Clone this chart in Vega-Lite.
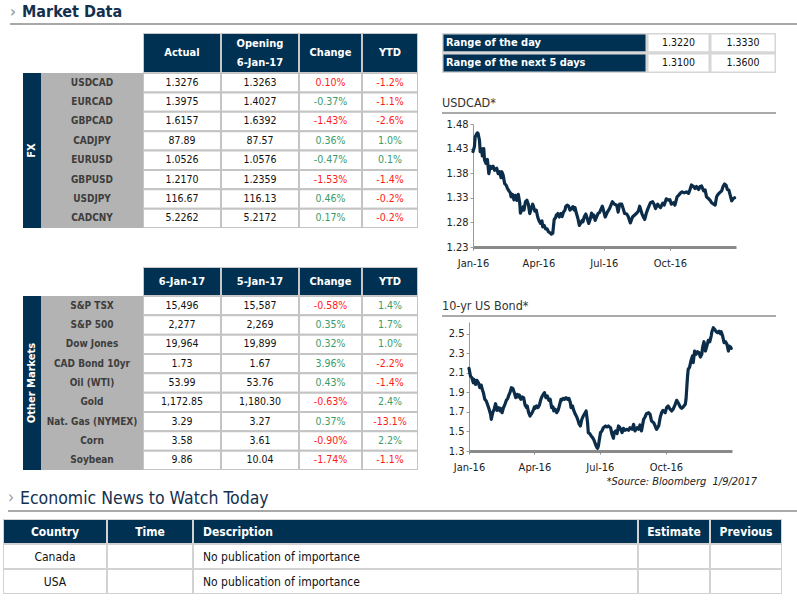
{
"$schema": "https://vega.github.io/schema/vega-lite/v6.json",
"background": "white",
"padding": {"left": 0, "top": 4, "right": 0, "bottom": 0},
"config": {"view": {"stroke": null}, "font": "DejaVu Sans Condensed", "concat": {"spacing": 0}},
"spacing": 0,
"datasets": {
"fx": [
{"pair":"USDCAD","actual":"1.3276","opening":"1.3263","change":"0.10%","changeSignal":"negative","ytd":"-1.2%","ytdSignal":"negative"},
{"pair":"EURCAD","actual":"1.3975","opening":"1.4027","change":"-0.37%","changeSignal":"positive","ytd":"-1.1%","ytdSignal":"negative"},
{"pair":"GBPCAD","actual":"1.6157","opening":"1.6392","change":"-1.43%","changeSignal":"negative","ytd":"-2.6%","ytdSignal":"negative"},
{"pair":"CADJPY","actual":"87.89","opening":"87.57","change":"0.36%","changeSignal":"positive","ytd":"1.0%","ytdSignal":"positive"},
{"pair":"EURUSD","actual":"1.0526","opening":"1.0576","change":"-0.47%","changeSignal":"positive","ytd":"0.1%","ytdSignal":"positive"},
{"pair":"GBPUSD","actual":"1.2170","opening":"1.2359","change":"-1.53%","changeSignal":"negative","ytd":"-1.4%","ytdSignal":"negative"},
{"pair":"USDJPY","actual":"116.67","opening":"116.13","change":"0.46%","changeSignal":"positive","ytd":"-0.2%","ytdSignal":"negative"},
{"pair":"CADCNY","actual":"5.2262","opening":"5.2172","change":"0.17%","changeSignal":"positive","ytd":"-0.2%","ytdSignal":"negative"}
],
"markets": [
{"asset":"S&P TSX","today":"15,496","prev":"15,587","change":"-0.58%","changeSignal":"negative","ytd":"1.4%","ytdSignal":"positive"},
{"asset":"S&P 500","today":"2,277","prev":"2,269","change":"0.35%","changeSignal":"positive","ytd":"1.7%","ytdSignal":"positive"},
{"asset":"Dow Jones","today":"19,964","prev":"19,899","change":"0.32%","changeSignal":"positive","ytd":"1.0%","ytdSignal":"positive"},
{"asset":"CAD Bond 10yr","today":"1.73","prev":"1.67","change":"3.96%","changeSignal":"positive","ytd":"-2.2%","ytdSignal":"negative"},
{"asset":"Oil (WTI)","today":"53.99","prev":"53.76","change":"0.43%","changeSignal":"positive","ytd":"-1.4%","ytdSignal":"negative"},
{"asset":"Gold","today":"1,172.85","prev":"1,180.30","change":"-0.63%","changeSignal":"negative","ytd":"2.4%","ytdSignal":"positive"},
{"asset":"Nat. Gas (NYMEX)","today":"3.29","prev":"3.27","change":"0.37%","changeSignal":"positive","ytd":"-13.1%","ytdSignal":"negative"},
{"asset":"Corn","today":"3.58","prev":"3.61","change":"-0.90%","changeSignal":"negative","ytd":"2.2%","ytdSignal":"positive"},
{"asset":"Soybean","today":"9.86","prev":"10.04","change":"-1.74%","changeSignal":"negative","ytd":"-1.1%","ytdSignal":"negative"}
],
"range": [
{"label":"Range of the day","low":"1.3220","high":"1.3330"},
{"label":"Range of the next 5 days","low":"1.3100","high":"1.3600"}
],
"news": [
{"row":"header","country":"Country","time":"Time","description":"Description","estimate":"Estimate","previous":"Previous"},
{"row":"Canada","country":"Canada","time":"","description":"No publication of importance","estimate":"","previous":""},
{"row":"USA","country":"USA","time":"","description":"No publication of importance","estimate":"","previous":""}
],
"usdcad": [
{"date":"2016-01-01","rate":1.424},{"date":"2016-01-03","rate":1.434},{"date":"2016-01-04","rate":1.454},{"date":"2016-01-07","rate":1.462},{"date":"2016-01-08","rate":1.461},{"date":"2016-01-10","rate":1.447},{"date":"2016-01-11","rate":1.424},{"date":"2016-01-13","rate":1.430},{"date":"2016-01-14","rate":1.415},{"date":"2016-01-16","rate":1.430},{"date":"2016-01-17","rate":1.407},{"date":"2016-01-19","rate":1.400},{"date":"2016-01-21","rate":1.408},{"date":"2016-01-23","rate":1.379},{"date":"2016-01-25","rate":1.394},{"date":"2016-01-27","rate":1.390},{"date":"2016-01-29","rate":1.394},{"date":"2016-01-31","rate":1.386},{"date":"2016-02-03","rate":1.390},{"date":"2016-02-05","rate":1.379},{"date":"2016-02-07","rate":1.383},{"date":"2016-02-09","rate":1.371},{"date":"2016-02-10","rate":1.383},{"date":"2016-02-12","rate":1.376},{"date":"2016-02-14","rate":1.359},{"date":"2016-02-16","rate":1.356},{"date":"2016-02-18","rate":1.349},{"date":"2016-02-20","rate":1.344},{"date":"2016-02-22","rate":1.340},{"date":"2016-02-23","rate":1.332},{"date":"2016-02-25","rate":1.337},{"date":"2016-02-27","rate":1.326},{"date":"2016-02-29","rate":1.335},{"date":"2016-03-02","rate":1.325},{"date":"2016-03-04","rate":1.337},{"date":"2016-03-06","rate":1.320},{"date":"2016-03-07","rate":1.299},{"date":"2016-03-09","rate":1.306},{"date":"2016-03-11","rate":1.312},{"date":"2016-03-12","rate":1.305},{"date":"2016-03-14","rate":1.322},{"date":"2016-03-16","rate":1.325},{"date":"2016-03-18","rate":1.317},{"date":"2016-03-20","rate":1.298},{"date":"2016-03-22","rate":1.308},{"date":"2016-03-24","rate":1.317},{"date":"2016-03-25","rate":1.313},{"date":"2016-03-27","rate":1.303},{"date":"2016-03-29","rate":1.305},{"date":"2016-03-31","rate":1.291},{"date":"2016-04-02","rate":1.283},{"date":"2016-04-04","rate":1.278},{"date":"2016-04-06","rate":1.283},{"date":"2016-04-07","rate":1.271},{"date":"2016-04-09","rate":1.274},{"date":"2016-04-11","rate":1.267},{"date":"2016-04-13","rate":1.267},{"date":"2016-04-15","rate":1.261},{"date":"2016-04-17","rate":1.259},{"date":"2016-04-19","rate":1.256},{"date":"2016-04-21","rate":1.258},{"date":"2016-04-23","rate":1.286},{"date":"2016-04-25","rate":1.290},{"date":"2016-04-26","rate":1.295},{"date":"2016-04-28","rate":1.298},{"date":"2016-04-30","rate":1.291},{"date":"2016-05-02","rate":1.298},{"date":"2016-05-04","rate":1.292},{"date":"2016-05-06","rate":1.301},{"date":"2016-05-08","rate":1.305},{"date":"2016-05-09","rate":1.312},{"date":"2016-05-11","rate":1.315},{"date":"2016-05-13","rate":1.313},{"date":"2016-05-15","rate":1.305},{"date":"2016-05-17","rate":1.308},{"date":"2016-05-19","rate":1.312},{"date":"2016-05-21","rate":1.305},{"date":"2016-05-22","rate":1.310},{"date":"2016-05-24","rate":1.298},{"date":"2016-05-26","rate":1.288},{"date":"2016-05-28","rate":1.274},{"date":"2016-05-30","rate":1.279},{"date":"2016-06-01","rate":1.284},{"date":"2016-06-02","rate":1.281},{"date":"2016-06-04","rate":1.292},{"date":"2016-06-06","rate":1.297},{"date":"2016-06-08","rate":1.288},{"date":"2016-06-10","rate":1.278},{"date":"2016-06-12","rate":1.286},{"date":"2016-06-14","rate":1.299},{"date":"2016-06-15","rate":1.291},{"date":"2016-06-17","rate":1.295},{"date":"2016-06-19","rate":1.284},{"date":"2016-06-21","rate":1.291},{"date":"2016-06-23","rate":1.298},{"date":"2016-06-25","rate":1.300},{"date":"2016-06-29","rate":1.313},{"date":"2016-07-03","rate":1.291},{"date":"2016-07-06","rate":1.301},{"date":"2016-07-09","rate":1.308},{"date":"2016-07-13","rate":1.322},{"date":"2016-07-16","rate":1.317},{"date":"2016-07-19","rate":1.315},{"date":"2016-07-21","rate":1.301},{"date":"2016-07-23","rate":1.317},{"date":"2016-07-26","rate":1.317},{"date":"2016-07-28","rate":1.308},{"date":"2016-07-30","rate":1.298},{"date":"2016-08-02","rate":1.297},{"date":"2016-08-04","rate":1.292},{"date":"2016-08-07","rate":1.279},{"date":"2016-08-10","rate":1.291},{"date":"2016-08-13","rate":1.295},{"date":"2016-08-16","rate":1.299},{"date":"2016-08-18","rate":1.303},{"date":"2016-08-20","rate":1.313},{"date":"2016-08-23","rate":1.298},{"date":"2016-08-25","rate":1.291},{"date":"2016-08-27","rate":1.286},{"date":"2016-08-29","rate":1.298},{"date":"2016-09-01","rate":1.310},{"date":"2016-09-04","rate":1.320},{"date":"2016-09-07","rate":1.322},{"date":"2016-09-09","rate":1.317},{"date":"2016-09-11","rate":1.308},{"date":"2016-09-14","rate":1.317},{"date":"2016-09-16","rate":1.313},{"date":"2016-09-18","rate":1.310},{"date":"2016-09-21","rate":1.319},{"date":"2016-09-23","rate":1.315},{"date":"2016-09-26","rate":1.328},{"date":"2016-09-29","rate":1.325},{"date":"2016-10-01","rate":1.326},{"date":"2016-10-03","rate":1.317},{"date":"2016-10-06","rate":1.320},{"date":"2016-10-08","rate":1.315},{"date":"2016-10-11","rate":1.332},{"date":"2016-10-13","rate":1.335},{"date":"2016-10-16","rate":1.340},{"date":"2016-10-18","rate":1.342},{"date":"2016-10-21","rate":1.340},{"date":"2016-10-24","rate":1.342},{"date":"2016-10-27","rate":1.339},{"date":"2016-10-29","rate":1.347},{"date":"2016-10-31","rate":1.356},{"date":"2016-11-03","rate":1.353},{"date":"2016-11-05","rate":1.349},{"date":"2016-11-07","rate":1.353},{"date":"2016-11-10","rate":1.347},{"date":"2016-11-12","rate":1.353},{"date":"2016-11-14","rate":1.354},{"date":"2016-11-17","rate":1.344},{"date":"2016-11-19","rate":1.346},{"date":"2016-11-21","rate":1.332},{"date":"2016-11-24","rate":1.328},{"date":"2016-11-26","rate":1.325},{"date":"2016-11-28","rate":1.320},{"date":"2016-12-01","rate":1.317},{"date":"2016-12-03","rate":1.315},{"date":"2016-12-05","rate":1.332},{"date":"2016-12-07","rate":1.337},{"date":"2016-12-09","rate":1.340},{"date":"2016-12-12","rate":1.344},{"date":"2016-12-14","rate":1.353},{"date":"2016-12-16","rate":1.358},{"date":"2016-12-18","rate":1.356},{"date":"2016-12-20","rate":1.347},{"date":"2016-12-22","rate":1.346},{"date":"2016-12-24","rate":1.335},{"date":"2016-12-26","rate":1.324},{"date":"2016-12-28","rate":1.328},{"date":"2016-12-30","rate":1.330}
],
"ust10": [
{"date":"2016-01-01","yield":2.146},{"date":"2016-01-03","yield":2.067},{"date":"2016-01-05","yield":2.050},{"date":"2016-01-07","yield":1.999},{"date":"2016-01-08","yield":2.033},{"date":"2016-01-10","yield":1.982},{"date":"2016-01-12","yield":2.023},{"date":"2016-01-14","yield":1.999},{"date":"2016-01-16","yield":1.948},{"date":"2016-01-18","yield":1.975},{"date":"2016-01-19","yield":1.941},{"date":"2016-01-21","yield":1.897},{"date":"2016-01-23","yield":1.829},{"date":"2016-01-25","yield":1.812},{"date":"2016-01-27","yield":1.771},{"date":"2016-01-29","yield":1.727},{"date":"2016-01-31","yield":1.675},{"date":"2016-02-01","yield":1.624},{"date":"2016-02-03","yield":1.692},{"date":"2016-02-05","yield":1.727},{"date":"2016-02-07","yield":1.784},{"date":"2016-02-09","yield":1.716},{"date":"2016-02-11","yield":1.744},{"date":"2016-02-13","yield":1.710},{"date":"2016-02-14","yield":1.737},{"date":"2016-02-16","yield":1.692},{"date":"2016-02-18","yield":1.744},{"date":"2016-02-20","yield":1.778},{"date":"2016-02-22","yield":1.819},{"date":"2016-02-24","yield":1.839},{"date":"2016-02-25","yield":1.863},{"date":"2016-02-27","yield":1.897},{"date":"2016-02-29","yield":1.948},{"date":"2016-03-02","yield":1.941},{"date":"2016-03-04","yield":1.897},{"date":"2016-03-06","yield":1.846},{"date":"2016-03-08","yield":1.880},{"date":"2016-03-09","yield":1.853},{"date":"2016-03-11","yield":1.873},{"date":"2016-03-13","yield":1.829},{"date":"2016-03-15","yield":1.853},{"date":"2016-03-17","yield":1.846},{"date":"2016-03-19","yield":1.771},{"date":"2016-03-21","yield":1.744},{"date":"2016-03-22","yield":1.761},{"date":"2016-03-24","yield":1.692},{"date":"2016-03-26","yield":1.658},{"date":"2016-03-28","yield":1.682},{"date":"2016-03-30","yield":1.710},{"date":"2016-04-01","yield":1.750},{"date":"2016-04-02","yield":1.737},{"date":"2016-04-04","yield":1.761},{"date":"2016-04-06","yield":1.744},{"date":"2016-04-08","yield":1.771},{"date":"2016-04-10","yield":1.829},{"date":"2016-04-12","yield":1.863},{"date":"2016-04-14","yield":1.887},{"date":"2016-04-15","yield":1.897},{"date":"2016-04-17","yield":1.846},{"date":"2016-04-19","yield":1.863},{"date":"2016-04-21","yield":1.819},{"date":"2016-04-23","yield":1.829},{"date":"2016-04-25","yield":1.744},{"date":"2016-04-27","yield":1.750},{"date":"2016-04-28","yield":1.710},{"date":"2016-04-30","yield":1.727},{"date":"2016-05-02","yield":1.692},{"date":"2016-05-04","yield":1.716},{"date":"2016-05-06","yield":1.771},{"date":"2016-05-08","yield":1.829},{"date":"2016-05-09","yield":1.819},{"date":"2016-05-11","yield":1.839},{"date":"2016-05-13","yield":1.829},{"date":"2016-05-15","yield":1.846},{"date":"2016-05-17","yield":1.829},{"date":"2016-05-19","yield":1.839},{"date":"2016-05-21","yield":1.795},{"date":"2016-05-22","yield":1.744},{"date":"2016-05-24","yield":1.761},{"date":"2016-05-26","yield":1.710},{"date":"2016-05-28","yield":1.675},{"date":"2016-05-30","yield":1.648},{"date":"2016-06-01","yield":1.607},{"date":"2016-06-02","yield":1.580},{"date":"2016-06-04","yield":1.556},{"date":"2016-06-06","yield":1.624},{"date":"2016-06-08","yield":1.658},{"date":"2016-06-10","yield":1.682},{"date":"2016-06-12","yield":1.710},{"date":"2016-06-14","yield":1.590},{"date":"2016-06-15","yield":1.488},{"date":"2016-06-17","yield":1.478},{"date":"2016-06-19","yield":1.454},{"date":"2016-06-21","yield":1.437},{"date":"2016-06-23","yield":1.410},{"date":"2016-06-25","yield":1.369},{"date":"2016-06-27","yield":1.335},{"date":"2016-06-28","yield":1.328},{"date":"2016-06-29","yield":1.352},{"date":"2016-07-02","yield":1.488},{"date":"2016-07-04","yield":1.505},{"date":"2016-07-06","yield":1.539},{"date":"2016-07-09","yield":1.556},{"date":"2016-07-11","yield":1.546},{"date":"2016-07-13","yield":1.556},{"date":"2016-07-16","yield":1.539},{"date":"2016-07-18","yield":1.471},{"date":"2016-07-20","yield":1.430},{"date":"2016-07-21","yield":1.488},{"date":"2016-07-23","yield":1.505},{"date":"2016-07-25","yield":1.478},{"date":"2016-07-27","yield":1.556},{"date":"2016-07-29","yield":1.539},{"date":"2016-08-01","yield":1.488},{"date":"2016-08-03","yield":1.532},{"date":"2016-08-05","yield":1.512},{"date":"2016-08-08","yield":1.522},{"date":"2016-08-10","yield":1.512},{"date":"2016-08-12","yield":1.539},{"date":"2016-08-15","yield":1.522},{"date":"2016-08-17","yield":1.573},{"date":"2016-08-19","yield":1.505},{"date":"2016-08-22","yield":1.539},{"date":"2016-08-24","yield":1.522},{"date":"2016-08-26","yield":1.567},{"date":"2016-08-28","yield":1.505},{"date":"2016-08-31","yield":1.624},{"date":"2016-09-02","yield":1.648},{"date":"2016-09-04","yield":1.682},{"date":"2016-09-07","yield":1.692},{"date":"2016-09-09","yield":1.675},{"date":"2016-09-11","yield":1.607},{"date":"2016-09-14","yield":1.590},{"date":"2016-09-16","yield":1.556},{"date":"2016-09-18","yield":1.522},{"date":"2016-09-21","yield":1.556},{"date":"2016-09-23","yield":1.641},{"date":"2016-09-25","yield":1.692},{"date":"2016-09-27","yield":1.716},{"date":"2016-09-30","yield":1.692},{"date":"2016-10-02","yield":1.744},{"date":"2016-10-04","yield":1.761},{"date":"2016-10-07","yield":1.727},{"date":"2016-10-09","yield":1.710},{"date":"2016-10-11","yield":1.727},{"date":"2016-10-14","yield":1.778},{"date":"2016-10-16","yield":1.819},{"date":"2016-10-18","yield":1.795},{"date":"2016-10-21","yield":1.750},{"date":"2016-10-23","yield":1.737},{"date":"2016-10-25","yield":1.750},{"date":"2016-10-28","yield":1.778},{"date":"2016-10-29","yield":1.829},{"date":"2016-10-31","yield":2.050},{"date":"2016-11-01","yield":2.135},{"date":"2016-11-03","yield":2.159},{"date":"2016-11-05","yield":2.227},{"date":"2016-11-07","yield":2.272},{"date":"2016-11-08","yield":2.204},{"date":"2016-11-10","yield":2.323},{"date":"2016-11-12","yield":2.289},{"date":"2016-11-14","yield":2.316},{"date":"2016-11-16","yield":2.306},{"date":"2016-11-18","yield":2.261},{"date":"2016-11-20","yield":2.289},{"date":"2016-11-21","yield":2.357},{"date":"2016-11-23","yield":2.418},{"date":"2016-11-25","yield":2.323},{"date":"2016-11-27","yield":2.374},{"date":"2016-11-29","yield":2.432},{"date":"2016-12-01","yield":2.418},{"date":"2016-12-03","yield":2.476},{"date":"2016-12-04","yield":2.520},{"date":"2016-12-06","yield":2.561},{"date":"2016-12-08","yield":2.544},{"date":"2016-12-10","yield":2.520},{"date":"2016-12-12","yield":2.510},{"date":"2016-12-14","yield":2.527},{"date":"2016-12-16","yield":2.500},{"date":"2016-12-17","yield":2.520},{"date":"2016-12-19","yield":2.476},{"date":"2016-12-21","yield":2.408},{"date":"2016-12-23","yield":2.418},{"date":"2016-12-25","yield":2.391},{"date":"2016-12-27","yield":2.323},{"date":"2016-12-28","yield":2.374},{"date":"2016-12-30","yield":2.364},{"date":"2016-12-31","yield":2.350}
]
},
"vconcat": [
{"spacing": 0, "hconcat": [
 {"width": 10, "height": 2, "data": {"values": []}, "mark": "point"},
 {"width": 12, "height": 2, "view": {"fill": "#a9a9a9"}, "data": {"values": []}, "mark": "point", "title": {"text": "›", "anchor": "start", "fontSize": 16, "fontWeight": "bold", "color": "#a0a0a0", "offset": 3}},
 {"width": 775, "height": 2, "view": {"fill": "#a9a9a9"}, "data": {"values": []}, "mark": "point", "title": {"text": "Market Data", "anchor": "start", "fontSize": 16, "fontWeight": "bold", "color": "#13314f", "offset": 3}}
]},
{"width": 1, "height": 8, "data": {"values": []}, "mark": "point"},
{"spacing": 0, "hconcat": [
 {"width": 23, "height": 1, "data": {"values": []}, "mark": "point"},
 {"spacing": 0, "vconcat": [
  {"spacing": 0, "hconcat": [
   {"width": 120, "height": 40, "data": {"values": []}, "mark": "point"},
   {"width": 78, "height": 40, "data": {"values": [{"label": "Actual"}]}, "layer": [
     {"mark": {"type": "rect", "fill": "#003152", "stroke": "#c8c8c8", "strokeWidth": 2, "clip": true}, "encoding": {}},
     {"mark": {"type": "text", "color": "white", "fontWeight": "bold", "fontSize": 11}, "encoding": {"text": {"field": "label"}}}]},
   {"width": 78, "height": 40, "data": {"values": [{"label": "Opening\n6-Jan-17"}]}, "layer": [
     {"mark": {"type": "rect", "fill": "#003152", "stroke": "#c8c8c8", "strokeWidth": 2, "clip": true}, "encoding": {}},
     {"mark": {"type": "text", "color": "white", "fontWeight": "bold", "fontSize": 11, "lineBreak": "\n", "lineHeight": 19, "dy": -9.5}, "encoding": {"text": {"field": "label"}}}]},
   {"width": 63, "height": 40, "data": {"values": [{"label": "Change"}]}, "layer": [
     {"mark": {"type": "rect", "fill": "#003152", "stroke": "#c8c8c8", "strokeWidth": 2, "clip": true}, "encoding": {}},
     {"mark": {"type": "text", "color": "white", "fontWeight": "bold", "fontSize": 11}, "encoding": {"text": {"field": "label"}}}]},
   {"width": 56, "height": 40, "data": {"values": [{"label": "YTD"}]}, "layer": [
     {"mark": {"type": "rect", "fill": "#003152", "stroke": "#c8c8c8", "strokeWidth": 2, "clip": true}, "encoding": {}},
     {"mark": {"type": "text", "color": "white", "fontWeight": "bold", "fontSize": 11}, "encoding": {"text": {"field": "label"}}}]}
  ]},
  {"spacing": 0, "hconcat": [
   {"width": 18, "height": 155, "view": {"fill": "#003152"}, "data": {"values": [{"section": "FX"}]}, "mark": {"type": "text", "angle": 270, "color": "white", "fontWeight": "bold", "fontSize": 11}, "encoding": {"text": {"field": "section"}}},
   {"width": 102, "height": 155, "view": {"fill": "#b3b3b3"}, "data": {"name": "fx"}, "mark": {"type": "text", "fontWeight": "bold", "color": "#3d3d3d", "fontSize": 10}, "encoding": {"y": {"field": "pair", "type": "nominal", "sort": null, "axis": null}, "text": {"field": "pair"}}},
   {"width": 78, "height": 155, "data": {"name": "fx"}, "encoding": {"y": {"field": "pair", "type": "nominal", "sort": null, "axis": null, "scale": {"paddingInner": 0, "paddingOuter": 0}}}, "layer": [
     {"mark": {"type": "rect", "fill": "white", "stroke": "#c4c4c4", "strokeWidth": 2, "clip": true}, "encoding": {}},
     {"mark": {"type": "text", "fontSize": 10.5, "color": "#111111"}, "encoding": {"text": {"field": "actual"}}}]},
   {"width": 78, "height": 155, "data": {"name": "fx"}, "encoding": {"y": {"field": "pair", "type": "nominal", "sort": null, "axis": null, "scale": {"paddingInner": 0, "paddingOuter": 0}}}, "layer": [
     {"mark": {"type": "rect", "fill": "white", "stroke": "#c4c4c4", "strokeWidth": 2, "clip": true}, "encoding": {}},
     {"mark": {"type": "text", "fontSize": 10.5, "color": "#111111"}, "encoding": {"text": {"field": "opening"}}}]},
   {"width": 63, "height": 155, "data": {"name": "fx"}, "encoding": {"y": {"field": "pair", "type": "nominal", "sort": null, "axis": null, "scale": {"paddingInner": 0, "paddingOuter": 0}}}, "layer": [
     {"mark": {"type": "rect", "fill": "white", "stroke": "#c4c4c4", "strokeWidth": 2, "clip": true}, "encoding": {}},
     {"mark": {"type": "text", "fontSize": 10.5}, "encoding": {"text": {"field": "change"}, "color": {"field": "changeSignal", "type": "nominal", "scale": {"domain": ["positive", "negative"], "range": ["#3a9b6b", "#ff1a1a"]}, "legend": null}}}]},
   {"width": 56, "height": 155, "data": {"name": "fx"}, "encoding": {"y": {"field": "pair", "type": "nominal", "sort": null, "axis": null, "scale": {"paddingInner": 0, "paddingOuter": 0}}}, "layer": [
     {"mark": {"type": "rect", "fill": "white", "stroke": "#c4c4c4", "strokeWidth": 2, "clip": true}, "encoding": {}},
     {"mark": {"type": "text", "fontSize": 10.5}, "encoding": {"text": {"field": "ytd"}, "color": {"field": "ytdSignal", "type": "nominal", "scale": {"domain": ["positive", "negative"], "range": ["#3a9b6b", "#ff1a1a"]}, "legend": null}}}]}
  ]},
  {"width": 1, "height": 39, "data": {"values": []}, "mark": "point"},
  {"spacing": 0, "hconcat": [
   {"width": 120, "height": 29, "data": {"values": []}, "mark": "point"},
   {"width": 78, "height": 29, "data": {"values": [{"label": "6-Jan-17"}]}, "layer": [
     {"mark": {"type": "rect", "fill": "#003152", "stroke": "#c8c8c8", "strokeWidth": 2, "clip": true}, "encoding": {}},
     {"mark": {"type": "text", "color": "white", "fontWeight": "bold", "fontSize": 11}, "encoding": {"text": {"field": "label"}}}]},
   {"width": 78, "height": 29, "data": {"values": [{"label": "5-Jan-17"}]}, "layer": [
     {"mark": {"type": "rect", "fill": "#003152", "stroke": "#c8c8c8", "strokeWidth": 2, "clip": true}, "encoding": {}},
     {"mark": {"type": "text", "color": "white", "fontWeight": "bold", "fontSize": 11}, "encoding": {"text": {"field": "label"}}}]},
   {"width": 63, "height": 29, "data": {"values": [{"label": "Change"}]}, "layer": [
     {"mark": {"type": "rect", "fill": "#003152", "stroke": "#c8c8c8", "strokeWidth": 2, "clip": true}, "encoding": {}},
     {"mark": {"type": "text", "color": "white", "fontWeight": "bold", "fontSize": 11}, "encoding": {"text": {"field": "label"}}}]},
   {"width": 56, "height": 29, "data": {"values": [{"label": "YTD"}]}, "layer": [
     {"mark": {"type": "rect", "fill": "#003152", "stroke": "#c8c8c8", "strokeWidth": 2, "clip": true}, "encoding": {}},
     {"mark": {"type": "text", "color": "white", "fontWeight": "bold", "fontSize": 11}, "encoding": {"text": {"field": "label"}}}]}
  ]},
  {"spacing": 0, "hconcat": [
   {"width": 18, "height": 174, "view": {"fill": "#003152"}, "data": {"values": [{"section": "Other Markets"}]}, "mark": {"type": "text", "angle": 270, "color": "white", "fontWeight": "bold", "fontSize": 11}, "encoding": {"text": {"field": "section"}}},
   {"width": 102, "height": 174, "view": {"fill": "#b3b3b3"}, "data": {"name": "markets"}, "mark": {"type": "text", "fontWeight": "bold", "color": "#3d3d3d", "fontSize": 10}, "encoding": {"y": {"field": "asset", "type": "nominal", "sort": null, "axis": null}, "text": {"field": "asset"}}},
   {"width": 78, "height": 174, "data": {"name": "markets"}, "encoding": {"y": {"field": "asset", "type": "nominal", "sort": null, "axis": null, "scale": {"paddingInner": 0, "paddingOuter": 0}}}, "layer": [
     {"mark": {"type": "rect", "fill": "white", "stroke": "#c4c4c4", "strokeWidth": 2, "clip": true}, "encoding": {}},
     {"mark": {"type": "text", "fontSize": 10.5, "color": "#111111"}, "encoding": {"text": {"field": "today"}}}]},
   {"width": 78, "height": 174, "data": {"name": "markets"}, "encoding": {"y": {"field": "asset", "type": "nominal", "sort": null, "axis": null, "scale": {"paddingInner": 0, "paddingOuter": 0}}}, "layer": [
     {"mark": {"type": "rect", "fill": "white", "stroke": "#c4c4c4", "strokeWidth": 2, "clip": true}, "encoding": {}},
     {"mark": {"type": "text", "fontSize": 10.5, "color": "#111111"}, "encoding": {"text": {"field": "prev"}}}]},
   {"width": 63, "height": 174, "data": {"name": "markets"}, "encoding": {"y": {"field": "asset", "type": "nominal", "sort": null, "axis": null, "scale": {"paddingInner": 0, "paddingOuter": 0}}}, "layer": [
     {"mark": {"type": "rect", "fill": "white", "stroke": "#c4c4c4", "strokeWidth": 2, "clip": true}, "encoding": {}},
     {"mark": {"type": "text", "fontSize": 10.5}, "encoding": {"text": {"field": "change"}, "color": {"field": "changeSignal", "type": "nominal", "scale": {"domain": ["positive", "negative"], "range": ["#3a9b6b", "#ff1a1a"]}, "legend": null}}}]},
   {"width": 56, "height": 174, "data": {"name": "markets"}, "encoding": {"y": {"field": "asset", "type": "nominal", "sort": null, "axis": null, "scale": {"paddingInner": 0, "paddingOuter": 0}}}, "layer": [
     {"mark": {"type": "rect", "fill": "white", "stroke": "#c4c4c4", "strokeWidth": 2, "clip": true}, "encoding": {}},
     {"mark": {"type": "text", "fontSize": 10.5}, "encoding": {"text": {"field": "ytd"}, "color": {"field": "ytdSignal", "type": "nominal", "scale": {"domain": ["positive", "negative"], "range": ["#3a9b6b", "#ff1a1a"]}, "legend": null}}}]}
  ]}
 ]},
 {"width": 24, "height": 1, "data": {"values": []}, "mark": "point"},
 {"spacing": 0, "vconcat": [
  {"spacing": 0, "hconcat": [
   {"width": 205, "height": 40, "data": {"name": "range"}, "encoding": {"y": {"field": "label", "type": "nominal", "sort": null, "axis": null, "scale": {"paddingInner": 0, "paddingOuter": 0}}}, "layer": [
     {"mark": {"type": "rect", "fill": "#003152", "stroke": "#d6d6d6", "strokeWidth": 3, "clip": true}, "encoding": {}},
     {"mark": {"type": "text", "align": "left", "x": 0, "dx": 4, "color": "white", "fontWeight": "bold", "fontSize": 11}, "encoding": {"text": {"field": "label"}}}]},
   {"width": 63, "height": 40, "data": {"name": "range"}, "encoding": {"y": {"field": "label", "type": "nominal", "sort": null, "axis": null, "scale": {"paddingInner": 0, "paddingOuter": 0}}}, "layer": [
     {"mark": {"type": "rect", "fill": "white", "stroke": "#d6d6d6", "strokeWidth": 3, "clip": true}, "encoding": {}},
     {"mark": {"type": "text", "fontSize": 10.5, "color": "#111111"}, "encoding": {"text": {"field": "low"}}}]},
   {"width": 66, "height": 40, "data": {"name": "range"}, "encoding": {"y": {"field": "label", "type": "nominal", "sort": null, "axis": null, "scale": {"paddingInner": 0, "paddingOuter": 0}}}, "layer": [
     {"mark": {"type": "rect", "fill": "white", "stroke": "#d6d6d6", "strokeWidth": 3, "clip": true}, "encoding": {}},
     {"mark": {"type": "text", "fontSize": 10.5, "color": "#111111"}, "encoding": {"text": {"field": "high"}}}]}
  ]},
  {"width": 1, "height": 23, "data": {"values": []}, "mark": "point"},
  {"width": 334, "height": 2, "view": {"fill": "#a9a9a9"}, "data": {"values": []}, "mark": "point", "title": {"text": "USDCAD*", "anchor": "start", "fontSize": 12.5, "fontWeight": "normal", "color": "#333333", "offset": 3}},
  {"width": 1, "height": 4, "data": {"values": []}, "mark": "point"},
  {"spacing": 0, "hconcat": [
   {"width": 3, "height": 1, "data": {"values": []}, "mark": "point"},
   {"width": 263, "height": 123, "data": {"name": "usdcad"}, "mark": {"type": "line", "color": "#0b2d4a", "strokeWidth": 3.2, "strokeJoin": "round", "strokeCap": "round"},
    "encoding": {
     "x": {"field": "date", "type": "temporal", "scale": {"type": "utc", "domain": [{"year": 2016, "month": 1, "date": 1, "utc": true}, {"year": 2017, "month": 1, "date": 1, "utc": true}]},
       "axis": {"title": null, "values": [{"year": 2016, "month": 1, "date": 1, "utc": true}, {"year": 2016, "month": 4, "date": 1, "utc": true}, {"year": 2016, "month": 7, "date": 1, "utc": true}, {"year": 2016, "month": 10, "date": 1, "utc": true}], "format": "%b-%y", "grid": false, "domainColor": "#8a8a8a", "domainWidth": 3, "tickColor": "#8a8a8a", "tickSize": 3, "labelFontSize": 11, "labelColor": "#222222", "labelPadding": 7, "labelFlush": false, "labelOverlap": false}},
     "y": {"field": "rate", "type": "quantitative", "scale": {"domain": [1.23, 1.48], "nice": false, "zero": false},
       "axis": {"title": null, "values": [1.23, 1.28, 1.33, 1.38, 1.43, 1.48], "format": ".2f", "grid": false, "domainColor": "#9a9a9a", "tickColor": "#9a9a9a", "tickSize": 3, "labelFontSize": 11, "labelColor": "#222222", "labelPadding": 2, "labelFlush": false, "labelOverlap": false}}
    }}
  ]},
  {"width": 1, "height": 31, "data": {"values": []}, "mark": "point"},
  {"width": 334, "height": 2, "view": {"fill": "#a9a9a9"}, "data": {"values": []}, "mark": "point", "title": {"text": "10-yr US Bond*", "anchor": "start", "fontSize": 12.5, "fontWeight": "normal", "color": "#333333", "offset": 3}},
  {"width": 1, "height": 5, "data": {"values": []}, "mark": "point"},
  {"spacing": 0, "hconcat": [
   {"width": 6, "height": 1, "data": {"values": []}, "mark": "point"},
   {"width": 263, "height": 129, "data": {"name": "ust10"}, "mark": {"type": "line", "color": "#0b2d4a", "strokeWidth": 3.2, "strokeJoin": "round", "strokeCap": "round"},
    "encoding": {
     "x": {"field": "date", "type": "temporal", "scale": {"type": "utc", "domain": [{"year": 2016, "month": 1, "date": 1, "utc": true}, {"year": 2017, "month": 1, "date": 1, "utc": true}]},
       "axis": {"title": null, "values": [{"year": 2016, "month": 1, "date": 1, "utc": true}, {"year": 2016, "month": 4, "date": 1, "utc": true}, {"year": 2016, "month": 7, "date": 1, "utc": true}, {"year": 2016, "month": 10, "date": 1, "utc": true}], "format": "%b-%y", "grid": false, "domainColor": "#8a8a8a", "domainWidth": 3, "tickColor": "#8a8a8a", "tickSize": 3, "labelFontSize": 11, "labelColor": "#222222", "labelPadding": 7, "labelFlush": false, "labelOverlap": false}},
     "y": {"field": "yield", "type": "quantitative", "scale": {"domain": [1.3, 2.62], "nice": false, "zero": false},
       "axis": {"title": null, "values": [1.3, 1.5, 1.7, 1.9, 2.1, 2.3, 2.5], "format": ".1f", "grid": false, "domainColor": "#9a9a9a", "tickColor": "#9a9a9a", "tickSize": 3, "labelFontSize": 11, "labelColor": "#222222", "labelPadding": 2, "labelFlush": false, "labelOverlap": false}}
    }}
  ]},
  {"width": 1, "height": 4, "data": {"values": []}, "mark": "point"},
  {"width": 315, "height": 1, "data": {"values": []}, "mark": "point", "title": {"text": "*Source: Bloomberg\u00a0\u00a01/9/2017", "anchor": "end", "fontSize": 11, "fontStyle": "italic", "fontWeight": "normal", "color": "#222222", "offset": 0}}
 ]}
]},
{"width": 1, "height": 1, "data": {"values": []}, "mark": "point"},
{"spacing": 0, "hconcat": [
 {"width": 8, "height": 2, "data": {"values": []}, "mark": "point"},
 {"width": 12, "height": 2, "view": {"fill": "#a9a9a9"}, "data": {"values": []}, "mark": "point", "title": {"text": "›", "anchor": "start", "fontSize": 17, "fontWeight": "normal", "color": "#a0a0a0", "offset": 3}},
 {"width": 777, "height": 2, "view": {"fill": "#a9a9a9"}, "data": {"values": []}, "mark": "point", "title": {"text": "Economic News to Watch Today", "anchor": "start", "fontSize": 17.5, "fontWeight": "normal", "color": "#13314f", "offset": 3}}
]},
{"width": 1, "height": 7, "data": {"values": []}, "mark": "point"},
{"spacing": 0, "hconcat": [
 {"width": 3, "height": 1, "data": {"values": []}, "mark": "point"},
 {"width": 104, "height": 75, "data": {"name": "news"}, "encoding": {"y": {"field": "row", "type": "nominal", "axis": null, "scale": {"domain": ["header", "Canada", "USA"], "paddingInner": 0, "paddingOuter": 0}}}, "layer": [
   {"mark": {"type": "rect", "stroke": "#d2d2d2", "strokeWidth": 2, "clip": true}, "encoding": {"fill": {"condition": {"test": "datum.row === 'header'", "value": "#003152"}, "value": "white"}}},
   {"transform": [{"filter": "datum.row === 'header'"}], "mark": {"type": "text", "fontSize": 12, "fontWeight": "bold", "color": "white"}, "encoding": {"text": {"field": "country"}}},
   {"transform": [{"filter": "datum.row !== 'header'"}], "mark": {"type": "text", "fontSize": 12, "color": "#111111"}, "encoding": {"text": {"field": "country"}}}]},
 {"width": 86, "height": 75, "data": {"name": "news"}, "encoding": {"y": {"field": "row", "type": "nominal", "axis": null, "scale": {"domain": ["header", "Canada", "USA"], "paddingInner": 0, "paddingOuter": 0}}}, "layer": [
   {"mark": {"type": "rect", "stroke": "#d2d2d2", "strokeWidth": 2, "clip": true}, "encoding": {"fill": {"condition": {"test": "datum.row === 'header'", "value": "#003152"}, "value": "white"}}},
   {"transform": [{"filter": "datum.row === 'header'"}], "mark": {"type": "text", "fontSize": 12, "fontWeight": "bold", "color": "white"}, "encoding": {"text": {"field": "time"}}},
   {"transform": [{"filter": "datum.row !== 'header'"}], "mark": {"type": "text", "fontSize": 12, "color": "#111111"}, "encoding": {"text": {"field": "time"}}}]},
 {"width": 445, "height": 75, "data": {"name": "news"}, "encoding": {"y": {"field": "row", "type": "nominal", "axis": null, "scale": {"domain": ["header", "Canada", "USA"], "paddingInner": 0, "paddingOuter": 0}}}, "layer": [
   {"mark": {"type": "rect", "stroke": "#d2d2d2", "strokeWidth": 2, "clip": true}, "encoding": {"fill": {"condition": {"test": "datum.row === 'header'", "value": "#003152"}, "value": "white"}}},
   {"transform": [{"filter": "datum.row === 'header'"}], "mark": {"type": "text", "fontSize": 12, "fontWeight": "bold", "color": "white", "align": "left", "x": 0, "dx": 10}, "encoding": {"text": {"field": "description"}}},
   {"transform": [{"filter": "datum.row !== 'header'"}], "mark": {"type": "text", "fontSize": 12, "color": "#111111", "align": "left", "x": 0, "dx": 10}, "encoding": {"text": {"field": "description"}}}]},
 {"width": 72, "height": 75, "data": {"name": "news"}, "encoding": {"y": {"field": "row", "type": "nominal", "axis": null, "scale": {"domain": ["header", "Canada", "USA"], "paddingInner": 0, "paddingOuter": 0}}}, "layer": [
   {"mark": {"type": "rect", "stroke": "#d2d2d2", "strokeWidth": 2, "clip": true}, "encoding": {"fill": {"condition": {"test": "datum.row === 'header'", "value": "#003152"}, "value": "white"}}},
   {"transform": [{"filter": "datum.row === 'header'"}], "mark": {"type": "text", "fontSize": 12, "fontWeight": "bold", "color": "white"}, "encoding": {"text": {"field": "estimate"}}},
   {"transform": [{"filter": "datum.row !== 'header'"}], "mark": {"type": "text", "fontSize": 12, "color": "#111111"}, "encoding": {"text": {"field": "estimate"}}}]},
 {"width": 72, "height": 75, "data": {"name": "news"}, "encoding": {"y": {"field": "row", "type": "nominal", "axis": null, "scale": {"domain": ["header", "Canada", "USA"], "paddingInner": 0, "paddingOuter": 0}}}, "layer": [
   {"mark": {"type": "rect", "stroke": "#d2d2d2", "strokeWidth": 2, "clip": true}, "encoding": {"fill": {"condition": {"test": "datum.row === 'header'", "value": "#003152"}, "value": "white"}}},
   {"transform": [{"filter": "datum.row === 'header'"}], "mark": {"type": "text", "fontSize": 12, "fontWeight": "bold", "color": "white"}, "encoding": {"text": {"field": "previous"}}},
   {"transform": [{"filter": "datum.row !== 'header'"}], "mark": {"type": "text", "fontSize": 12, "color": "#111111"}, "encoding": {"text": {"field": "previous"}}}]}
]}
]
}
